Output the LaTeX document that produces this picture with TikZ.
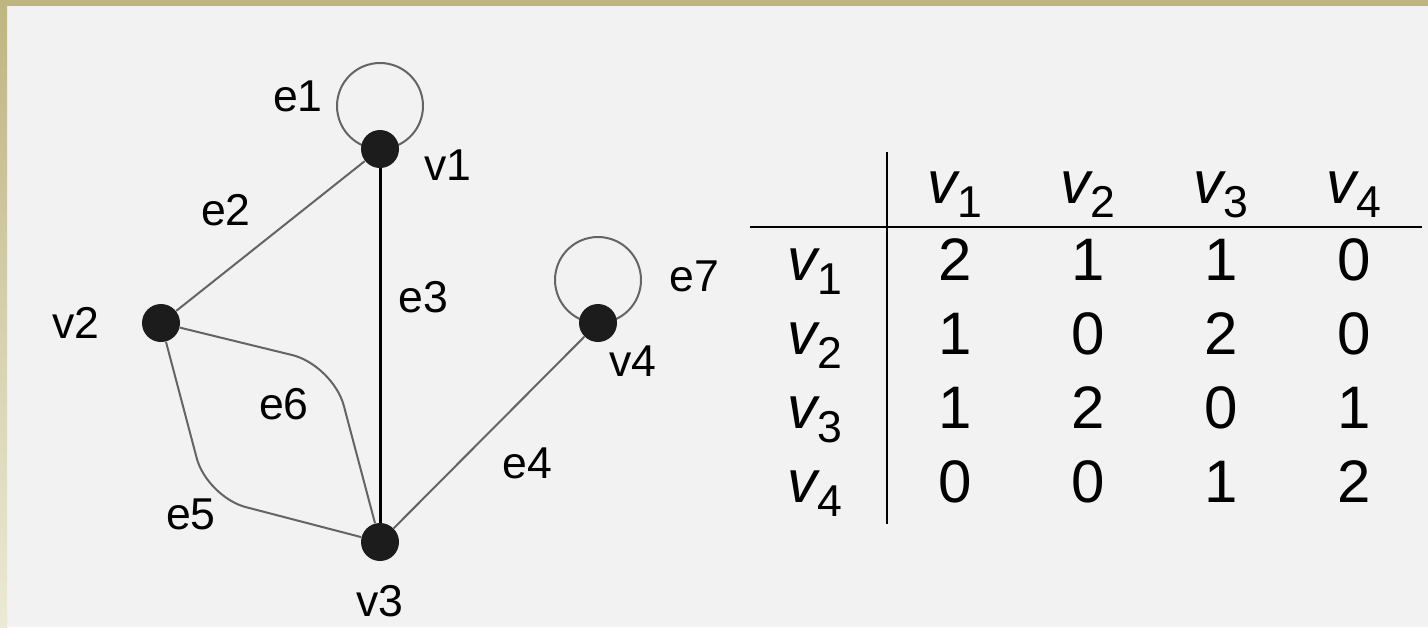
\documentclass[tikz,border=0pt]{standalone}
\usepackage{fontspec}
\setmainfont{Liberation Sans}
\usetikzlibrary{backgrounds}
\definecolor{olivetop}{RGB}{190,181,128}
\definecolor{olivebot}{RGB}{236,233,214}
\definecolor{paper}{RGB}{242,242,242}
\definecolor{edgegray}{RGB}{100,100,100}
\definecolor{dotblack}{RGB}{28,28,28}
\newcommand\vsub[1]{\textit{v}\kern-1.5pt\raisebox{-7pt}{\fontsize{22.3pt}{24pt}\selectfont #1}}

\begin{document}
\begin{tikzpicture}[x=0.5pt, y=-0.5pt,
  vertex/.style={circle, fill=dotblack, inner sep=0pt, minimum size=19pt},
  edge/.style={draw=edgegray, line width=1pt},
  lbl/.style={font=\fontsize{22.3pt}{24pt}\selectfont, inner sep=0pt},
  cell/.style={font=\fontsize{30pt}{32pt}\selectfont, inner sep=0pt, anchor=base},
  rule/.style={line width=1.4pt}
]
\useasboundingbox (0,0) rectangle (1428,627);
\begin{scope}[on background layer]
  \fill[paper] (0,0) rectangle (1428,627);
  \fill[olivetop] (0,0) rectangle (1428,6);
  \shade[top color=olivetop, bottom color=olivebot] (0,0) rectangle (7,627);
\end{scope}

% the graph
\node[vertex] (v1) at (380,149) {};
\node[vertex] (v2) at (161,323) {};
\node[vertex] (v3) at (380,542) {};
\node[vertex] (v4) at (598,323) {};

\draw[edge] (v1) -- (v2);
\draw[line width=1.5pt] (v1) -- (v3);
\draw[edge] (v3) -- (v4);
\draw[edge, rounded corners=20pt] (v2) -- (207,497) -- (v3);
\draw[edge, rounded corners=21pt] (v2) -- (333,365) -- (v3);
% loops sit behind the dots
\begin{scope}[on background layer]
  \draw[edge] ([yshift=21.5pt]v1.center) circle[radius=21.5pt];
  \draw[edge] ([yshift=21.5pt]v4.center) circle[radius=21.5pt];
\end{scope}

\node[lbl] (le1) at (298,96)  {e1};
\node[lbl] (lv1) at (448,165) {v1};
\node[lbl] (le2) at (226,210) {e2};
\node[lbl] (lv2) at (76,323)  {v2};
\node[lbl] (le3) at (423,297) {e3};
\node[lbl] (le7) at (694,276) {e7};
\node[lbl] (lv4) at (633,361) {v4};
\node[lbl] (le4) at (527,463) {e4};
\node[lbl] (le6) at (284,404) {e6};
\node[lbl] (le5) at (191,514) {e5};
\node[lbl] (lv3) at (380,601) {v3};

% the adjacency table
\draw[rule] (887,152) -- (887,524);
\draw[rule] (750,227) -- (1422,227);

\node[cell] (h1) at (955,203)  {\vsub{1}};
\node[cell] (h2) at (1088,203) {\vsub{2}};
\node[cell] (h3) at (1221,203) {\vsub{3}};
\node[cell] (h4) at (1354,203) {\vsub{4}};

\node[cell] (r1) at (815,280) {\vsub{1}};
\node[cell] (r2) at (815,354) {\vsub{2}};
\node[cell] (r3) at (815,428) {\vsub{3}};
\node[cell] (r4) at (815,502) {\vsub{4}};

\node[cell] (a11) at (955,280)  {2};
\node[cell] (a12) at (1088,280) {1};
\node[cell] (a13) at (1221,280) {1};
\node[cell] (a14) at (1354,280) {0};
\node[cell] (a21) at (955,354)  {1};
\node[cell] (a22) at (1088,354) {0};
\node[cell] (a23) at (1221,354) {2};
\node[cell] (a24) at (1354,354) {0};
\node[cell] (a31) at (955,428)  {1};
\node[cell] (a32) at (1088,428) {2};
\node[cell] (a33) at (1221,428) {0};
\node[cell] (a34) at (1354,428) {1};
\node[cell] (a41) at (955,502)  {0};
\node[cell] (a42) at (1088,502) {0};
\node[cell] (a43) at (1221,502) {1};
\node[cell] (a44) at (1354,502) {2};
\end{tikzpicture}
\end{document}
